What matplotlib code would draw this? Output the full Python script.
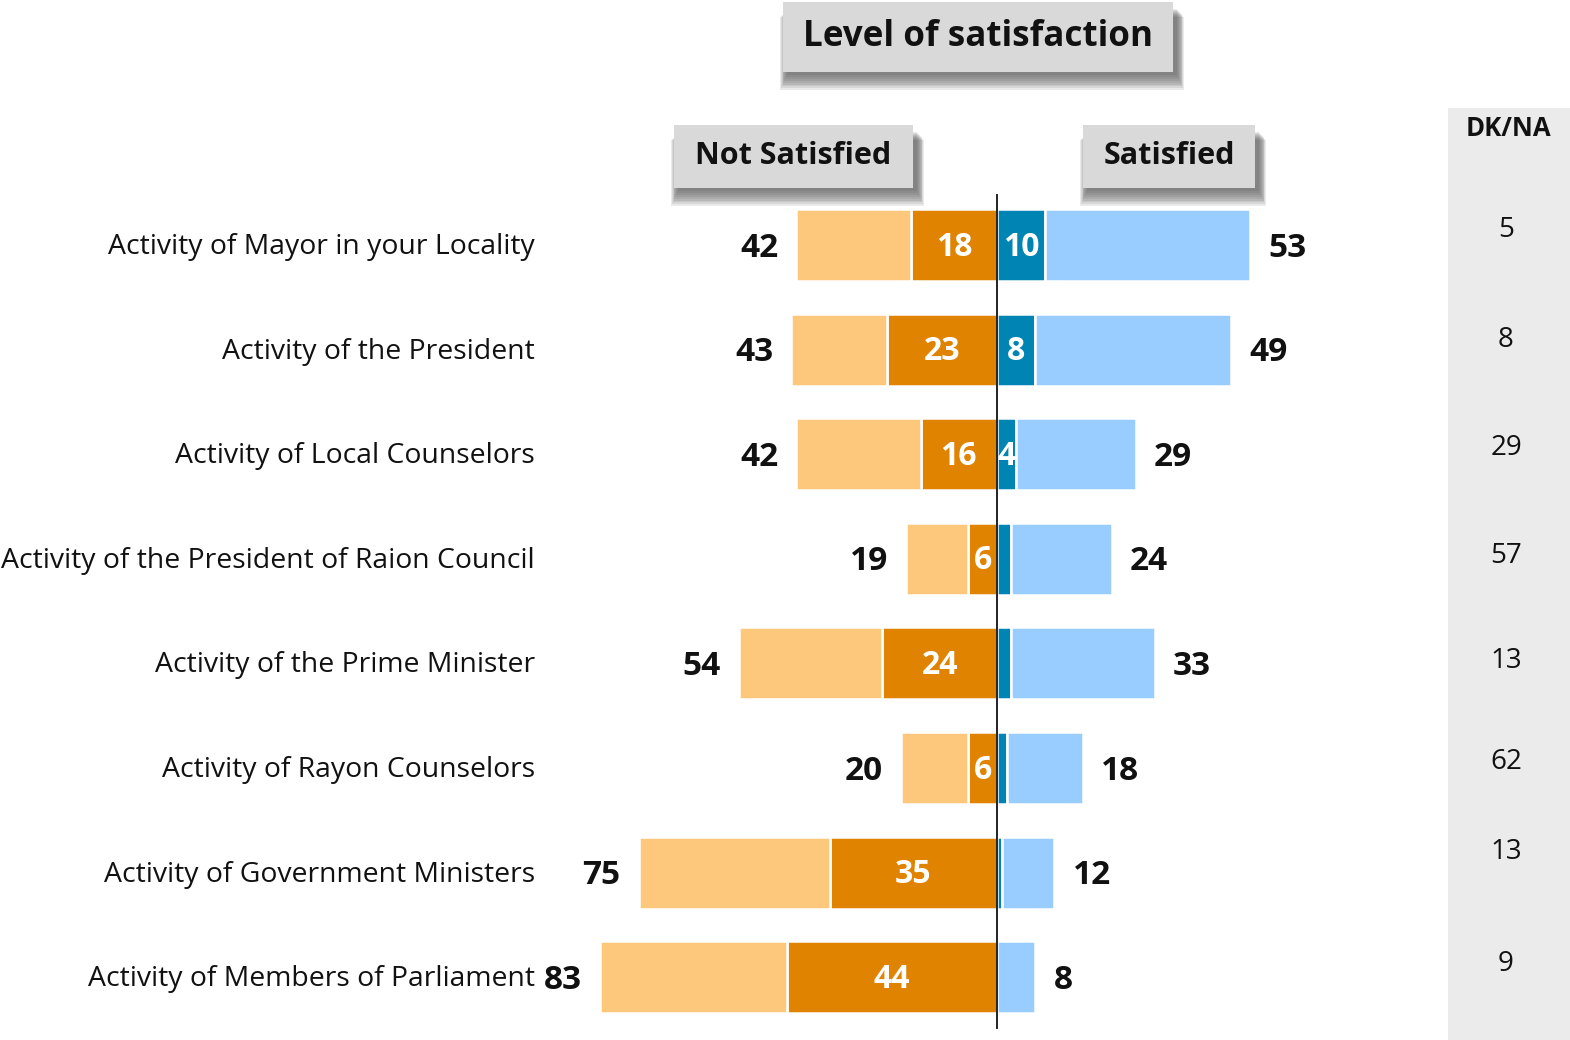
import matplotlib
matplotlib.use("Agg")
import matplotlib.pyplot as plt
from matplotlib.patches import Rectangle

plt.rcParams['font.family'] = ['Open Sans', 'DejaVu Sans']

categories = [
    "Activity of Mayor in your Locality",
    "Activity of the President",
    "Activity of Local Counselors",
    "Activity of the President of Raion Council",
    "Activity of the Prime Minister",
    "Activity of Rayon Counselors",
    "Activity of Government Ministers",
    "Activity of Members of Parliament",
]
not_satisfied_total = [42, 43, 42, 19, 54, 20, 75, 83]
not_satisfied_strong = [18, 23, 16, 6, 24, 6, 35, 44]
satisfied_total = [53, 49, 29, 24, 33, 18, 12, 8]
satisfied_strong = [10, 8, 4, 3, 3, 2, 1, 0]
dk_na = [5, 8, 29, 57, 13, 62, 13, 9]

LIGHT_ORANGE = "#FEC87C"
DARK_ORANGE = "#DF8300"
DARK_BLUE = "#0084B4"
LIGHT_BLUE = "#99CCFF"

W, H = 1570, 1040
fig = plt.figure(figsize=(W / 100, H / 100), dpi=100)
ax = fig.add_axes([0, 0, 1, 1])

# pixel-based scale: 4.78 px per percentage point, zero at x=997
scale = 4.78
x0 = 997
row0, row_step = 245, 104.6
ax.set_xlim((0 - x0) / scale, (W - x0) / scale)
ax.set_ylim((H - row0) / row_step, (0 - row0) / row_step)
ax.axis("off")


def px(x, y):
    return x / W, 1 - y / H


n = len(categories)
ys = list(range(n))
bh = 0.69

light_left = [t - s for t, s in zip(not_satisfied_total, not_satisfied_strong)]
light_right = [t - s for t, s in zip(satisfied_total, satisfied_strong)]

ax.barh(ys, [-v for v in not_satisfied_strong], height=bh, color=DARK_ORANGE,
        edgecolor="white", linewidth=1.8, zorder=2)
ax.barh(ys, [-v for v in light_left], left=[-v for v in not_satisfied_strong], height=bh,
        color=LIGHT_ORANGE, edgecolor="white", linewidth=1.8, zorder=2)
ax.barh(ys, satisfied_strong, height=bh, color=DARK_BLUE,
        edgecolor="white", linewidth=1.8, zorder=2)
ax.barh(ys, light_right, left=satisfied_strong, height=bh, color=LIGHT_BLUE,
        edgecolor="white", linewidth=1.8, zorder=2)

# centre line
ax.plot([0, 0], [(195 - row0) / row_step, (1028 - row0) / row_step], color="#222222",
        lw=1.4, zorder=4)

for i in ys:
    ax.text((535 - x0) / scale, i + 0.02, categories[i], ha="right", va="center",
            fontsize=20.4, color="#111111")
    ax.text(-not_satisfied_total[i] - 3.8, i + 0.03, str(not_satisfied_total[i]), ha="right",
            va="center", fontsize=24, fontweight="bold", color="#111111")
    ax.text(satisfied_total[i] + 3.8, i + 0.03, str(satisfied_total[i]), ha="left",
            va="center", fontsize=24, fontweight="bold", color="#111111")
    ax.text(-not_satisfied_strong[i] / 2, i + 0.02, str(not_satisfied_strong[i]), ha="center",
            va="center", fontsize=23, fontweight="bold", color="white", zorder=5)
    if satisfied_strong[i] >= 4:
        ax.text(satisfied_strong[i] / 2, i + 0.02, str(satisfied_strong[i]), ha="center",
                va="center", fontsize=23, fontweight="bold", color="white", zorder=5)

# DK/NA column
x_l, y_t = px(1448, 108)
ax.add_patch(Rectangle((x_l, 0), 1 - x_l, y_t, transform=ax.transAxes,
                       facecolor="#EBEBEB", edgecolor="none", zorder=0))
ax.text(*px(1508, 129), "DK/NA", transform=ax.transAxes, ha="center", va="center",
        fontsize=18.5, fontweight="bold", color="#111111")
dk_y = [230, 340, 448, 556, 661, 762, 852, 964]
for v, yy in zip(dk_na, dk_y):
    ax.text(*px(1506, yy), str(v), transform=ax.transAxes, ha="center", va="center",
            fontsize=20, color="#111111")


def shadow_box(x1, y1, x2, y2, text, size):
    # soft drop shadow built from stacked translucent layers
    for k in range(9):
        off = 3 + k * 1.0
        grow = k * 0.9
        a, b = px(x1 + 4 - grow, y2 + off + grow)
        c, d = px(x2 + 4 + grow, y1 + off + 4)
        ax.add_patch(Rectangle((a, b), c - a, d - b, transform=ax.transAxes,
                               facecolor="#444444", alpha=0.11, edgecolor="none", zorder=6))
    a, b = px(x1, y2)
    c, d = px(x2, y1)
    ax.add_patch(Rectangle((a, b), c - a, d - b, transform=ax.transAxes,
                           facecolor="#D9D9D9", edgecolor="none", zorder=7))
    ax.text((a + c) / 2, (b + d) / 2, text, transform=ax.transAxes, ha="center",
            va="center", fontsize=size, fontweight="bold", color="#111111", zorder=8)


shadow_box(783, 2, 1173, 72, "Level of satisfaction", 25.2)
shadow_box(674, 125, 913, 188, "Not Satisfied", 22)
shadow_box(1083, 125, 1255, 188, "Satisfied", 22)

fig.savefig("out.png", dpi=100)
